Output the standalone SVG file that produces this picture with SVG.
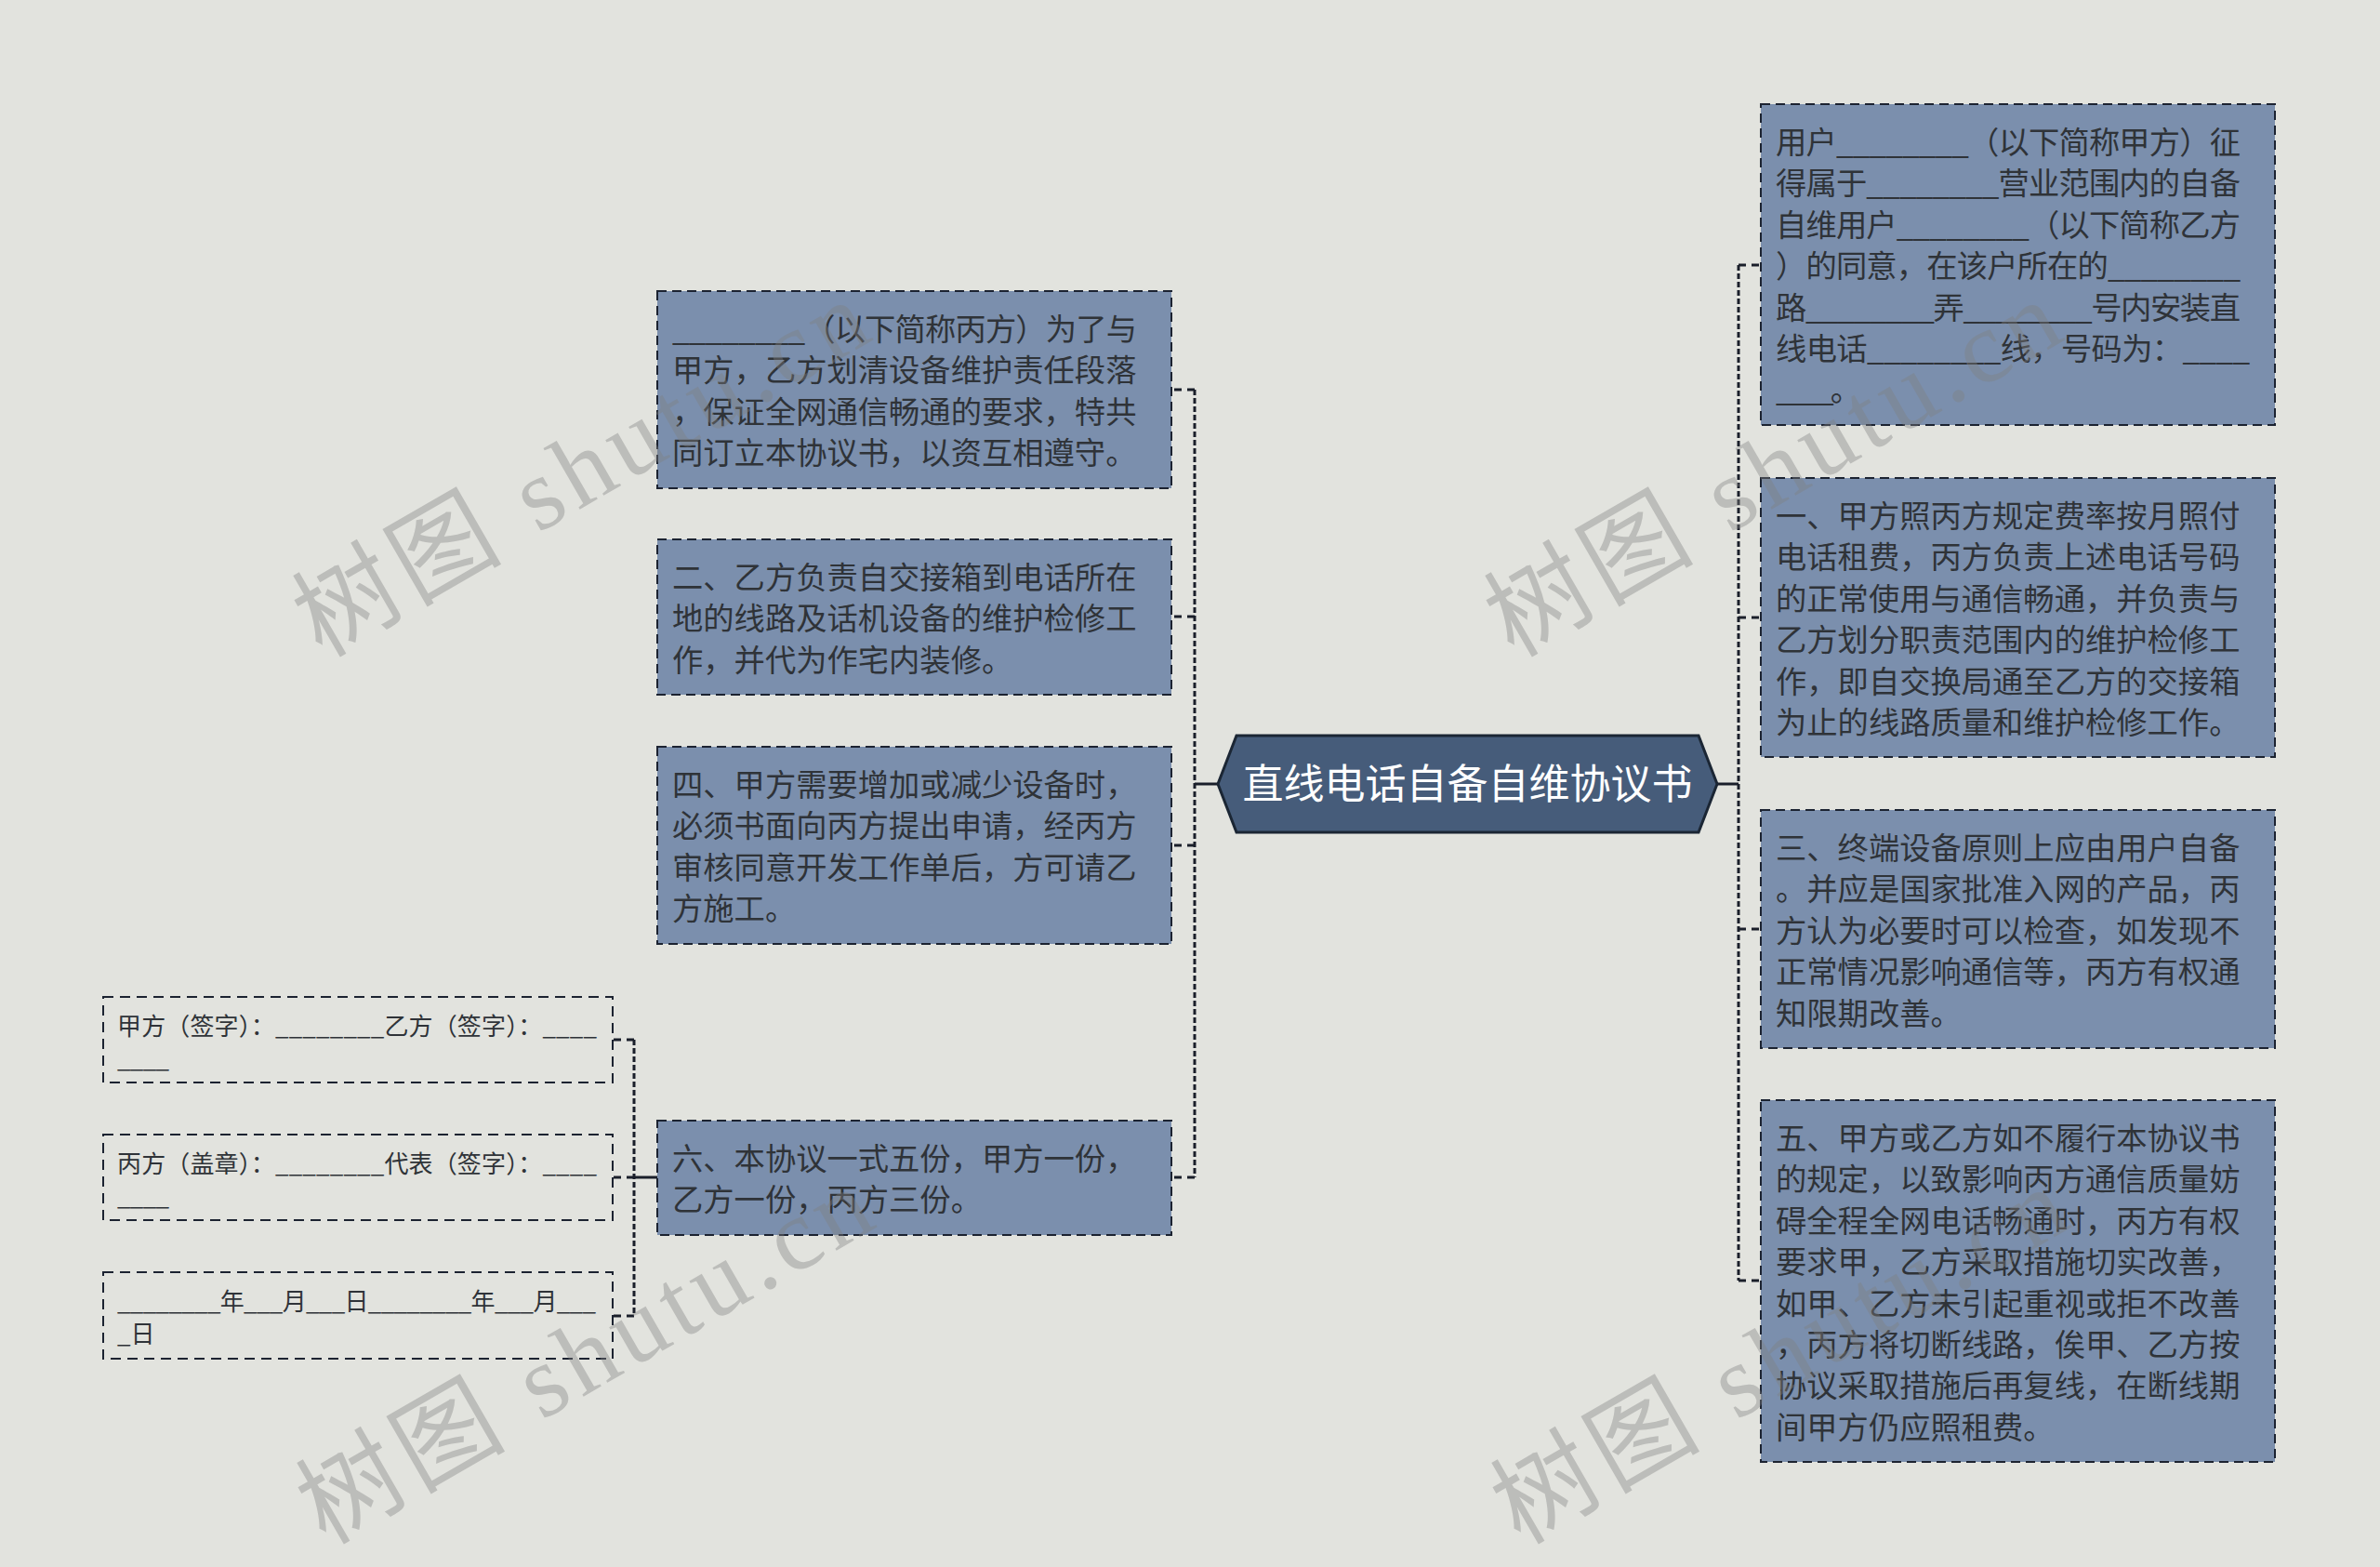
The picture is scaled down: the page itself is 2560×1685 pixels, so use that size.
<svg xmlns="http://www.w3.org/2000/svg" width="2560" height="1685" viewBox="0 0 2560 1685">
<style>
.bg{fill:#e2e3de}
.node{fill:#7b8fad;stroke:#1c2331;stroke-width:2;stroke-dasharray:10 6}
.sig{fill:none;stroke:#1c2331;stroke-width:2;stroke-dasharray:11 7}
.t{font-family:"Noto Sans CJK SC","Noto Sans",sans-serif;font-size:33.3px;fill:#2f3338}
.ts{font-family:"Noto Sans CJK SC","Noto Sans",sans-serif;font-size:26px;fill:#2f3338}
.title{font-family:"Noto Sans CJK SC","Noto Sans",sans-serif;font-size:44px;fill:#ffffff;text-anchor:middle}
.trunk{fill:none;stroke:#1a1f2a;stroke-width:3;stroke-dasharray:6 3}
.tick{fill:none;stroke:#1a1f2a;stroke-width:3;stroke-dasharray:8 6}
.solid{fill:none;stroke:#1a1f2a;stroke-width:3}
.wm{font-family:"Liberation Serif","Noto Sans CJK SC",serif;font-size:110px;fill:#808080;opacity:0.38;letter-spacing:7px}
</style>
<rect class="bg" x="0" y="0" width="2560" height="1685"/>

<g id="connectors">
  <path class="solid" d="M1310,843 H1285"/>
  <path class="trunk" d="M1285,419 V1266"/>
  <path class="tick" d="M1285,419 H1260"/>
  <path class="tick" d="M1285,663 H1260"/>
  <path class="tick" d="M1285,909 H1260"/>
  <path class="tick" d="M1285,1266 H1260"/>
  <path class="solid" d="M1847,843 H1870"/>
  <path class="trunk" d="M1870,285 V1377"/>
  <path class="tick" d="M1870,285 H1894"/>
  <path class="tick" d="M1870,664 H1894"/>
  <path class="tick" d="M1870,999 H1894"/>
  <path class="tick" d="M1870,1377 H1894"/>
  <path class="solid" d="M707,1266 H682"/>
  <path class="trunk" d="M682,1118 V1415"/>
  <path class="tick" d="M682,1118 H659"/>
  <path class="tick" d="M682,1266 H659"/>
  <path class="tick" d="M682,1415 H659"/>
</g>

<g id="root">
  <polygon points="1310,843 1330,791 1827,791 1847,843 1827,895 1330,895" fill="#465c7a" stroke="#1b2634" stroke-width="3"/>
  <text class="title" x="1578.5" y="859">直线电话自备自维协议书</text>
</g>

<g id="L1">
  <rect class="node" x="707" y="313" width="553" height="212"/>
  <text class="t" x="723" y="366" textLength="500">________（以下简称丙方）为了与</text>
  <text class="t" x="723" y="410.4">甲方，乙方划清设备维护责任段落</text>
  <text class="t" x="723" y="454.8">，保证全网通信畅通的要求，特共</text>
  <text class="t" x="723" y="499.2">同订立本协议书，以资互相遵守。</text>
</g>

<g id="L2">
  <rect class="node" x="707" y="580" width="553" height="167"/>
  <text class="t" x="723" y="633">二、乙方负责自交接箱到电话所在</text>
  <text class="t" x="723" y="677.4">地的线路及话机设备的维护检修工</text>
  <text class="t" x="723" y="721.8">作，并代为作宅内装修。</text>
</g>

<g id="L3">
  <rect class="node" x="707" y="803" width="553" height="212"/>
  <text class="t" x="723" y="856">四、甲方需要增加或减少设备时，</text>
  <text class="t" x="723" y="900.4">必须书面向丙方提出申请，经丙方</text>
  <text class="t" x="723" y="944.8">审核同意开发工作单后，方可请乙</text>
  <text class="t" x="723" y="989.2">方施工。</text>
</g>

<g id="L4">
  <rect class="node" x="707" y="1205" width="553" height="123"/>
  <text class="t" x="723" y="1258">六、本协议一式五份，甲方一份，</text>
  <text class="t" x="723" y="1302.4">乙方一份，丙方三份。</text>
</g>

<g id="S1">
  <rect class="sig" x="111" y="1072" width="548" height="92"/>
  <text class="ts" x="126" y="1113" textLength="516">甲方（签字）：________乙方（签字）：____</text>
  <text class="ts" x="126" y="1148" textLength="56">____</text>
</g>

<g id="S2">
  <rect class="sig" x="111" y="1220" width="548" height="92"/>
  <text class="ts" x="126" y="1261" textLength="516">丙方（盖章）：________代表（签字）：____</text>
  <text class="ts" x="126" y="1296" textLength="56">____</text>
</g>

<g id="S3">
  <rect class="sig" x="111" y="1368" width="548" height="93"/>
  <text class="ts" x="126" y="1409" textLength="515">________年___月___日________年___月___</text>
  <text class="ts" x="126" y="1444">_日</text>
</g>

<g id="R1">
  <rect class="node" x="1894" y="112" width="553" height="345"/>
  <text class="t" x="1910" y="165" textLength="500">用户________（以下简称甲方）征</text>
  <text class="t" x="1910" y="209.4" textLength="500">得属于________营业范围内的自备</text>
  <text class="t" x="1910" y="253.8" textLength="500">自维用户________（以下简称乙方</text>
  <text class="t" x="1910" y="298.2" textLength="500">）的同意，在该户所在的________</text>
  <text class="t" x="1910" y="342.6" textLength="500">路________弄________号内安装直</text>
  <text class="t" x="1910" y="387" textLength="510">线电话________线，号码为：____</text>
  <text class="t" x="1910" y="431.4" textLength="92">____。</text>
</g>

<g id="R2">
  <rect class="node" x="1894" y="514" width="553" height="300"/>
  <text class="t" x="1910" y="567">一、甲方照丙方规定费率按月照付</text>
  <text class="t" x="1910" y="611.4">电话租费，丙方负责上述电话号码</text>
  <text class="t" x="1910" y="655.8">的正常使用与通信畅通，并负责与</text>
  <text class="t" x="1910" y="700.2">乙方划分职责范围内的维护检修工</text>
  <text class="t" x="1910" y="744.6">作，即自交换局通至乙方的交接箱</text>
  <text class="t" x="1910" y="789">为止的线路质量和维护检修工作。</text>
</g>

<g id="R3">
  <rect class="node" x="1894" y="871" width="553" height="256"/>
  <text class="t" x="1910" y="924">三、终端设备原则上应由用户自备</text>
  <text class="t" x="1910" y="968.4">。并应是国家批准入网的产品，丙</text>
  <text class="t" x="1910" y="1012.8">方认为必要时可以检查，如发现不</text>
  <text class="t" x="1910" y="1057.2">正常情况影响通信等，丙方有权通</text>
  <text class="t" x="1910" y="1101.6">知限期改善。</text>
</g>

<g id="R4">
  <rect class="node" x="1894" y="1183" width="553" height="389"/>
  <text class="t" x="1910" y="1236">五、甲方或乙方如不履行本协议书</text>
  <text class="t" x="1910" y="1280.4">的规定，以致影响丙方通信质量妨</text>
  <text class="t" x="1910" y="1324.8">碍全程全网电话畅通时，丙方有权</text>
  <text class="t" x="1910" y="1369.2">要求甲，乙方采取措施切实改善，</text>
  <text class="t" x="1910" y="1413.6">如甲、乙方未引起重视或拒不改善</text>
  <text class="t" x="1910" y="1458">，丙方将切断线路，俟甲、乙方按</text>
  <text class="t" x="1910" y="1502.4">协议采取措施后再复线，在断线期</text>
  <text class="t" x="1910" y="1546.8">间甲方仍应照租费。</text>
</g>

<g id="watermarks">
  <text class="wm" x="346" y="708" transform="rotate(-30 346 708)">树图 shutu.cn</text>
  <text class="wm" x="1628" y="708" transform="rotate(-30 1628 708)">树图 shutu.cn</text>
  <text class="wm" x="350" y="1662" transform="rotate(-30 350 1662)">树图 shutu.cn</text>
  <text class="wm" x="1635" y="1662" transform="rotate(-30 1635 1662)">树图 shutu.cn</text>
</g>
</svg>
